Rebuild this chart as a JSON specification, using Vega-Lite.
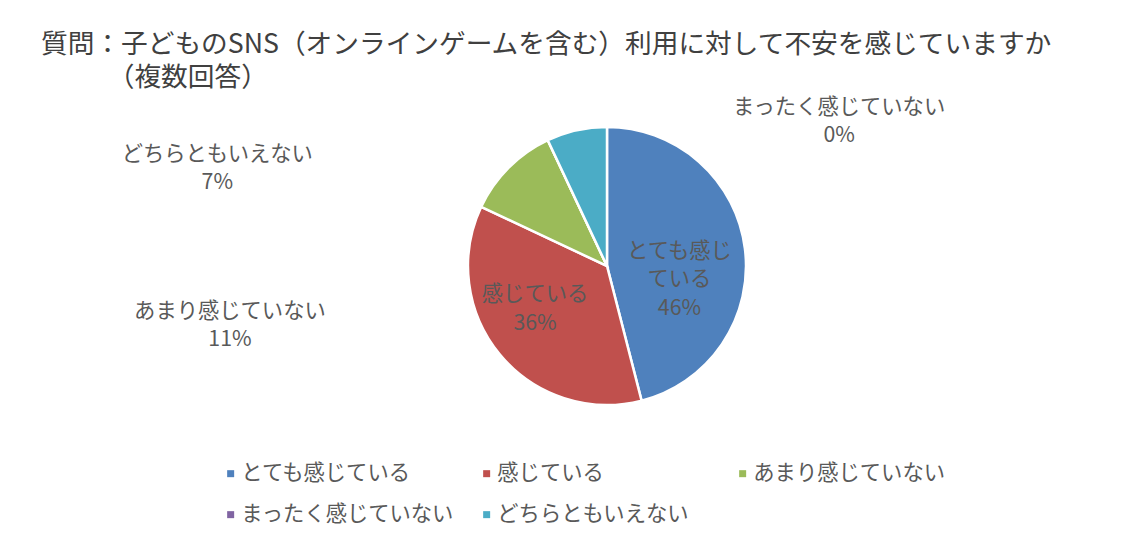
{
  "$schema": "https://vega.github.io/schema/vega-lite/v6.json",
  "width": 1054,
  "height": 332,
  "autosize": {"type": "none"},
  "padding": {"left": 80, "top": 100, "right": 12, "bottom": 126},
  "background": "white",
  "title": {
    "text": ["質問：子どものSNS（オンラインゲームを含む）利用に対して不安を感じていますか", "\u200B\u3000\u3000\u3000（複数回答）"],
    "anchor": "start",
    "frame": "group",
    "dx": -39,
    "offset": -5,
    "font": "Noto Sans CJK JP",
    "fontSize": 26.7,
    "fontWeight": "normal",
    "color": "#404040",
    "lineHeight": 33
  },
  "data": {
    "values": [
      {"cat": "とても感じている", "label": "とても感じ\nている\n46%", "value": 46, "order": 1},
      {"cat": "感じている", "label": "感じている\n36%", "value": 36, "order": 2},
      {"cat": "あまり感じていない", "label": "あまり感じていない\n11%", "value": 11, "order": 3},
      {"cat": "まったく感じていない", "label": "まったく感じていない\n0%", "value": 0, "order": 4},
      {"cat": "どちらともいえない", "label": "どちらともいえない\n7%", "value": 7, "order": 5}
    ]
  },
  "encoding": {
    "theta": {"field": "value", "type": "quantitative", "stack": true},
    "order": {"field": "order", "type": "quantitative"}
  },
  "layer": [
    {
      "mark": {"type": "arc", "outerRadius": 139, "stroke": "white", "strokeWidth": 2.5},
      "encoding": {
        "color": {
          "field": "cat",
          "type": "nominal",
          "scale": {
            "domain": ["とても感じている", "感じている", "あまり感じていない", "まったく感じていない", "どちらともいえない"],
            "range": ["#4F81BD", "#C0504D", "#9BBB59", "#8064A2", "#4BACC6"]
          },
          "legend": {
            "title": null,
            "orient": "none",
            "legendX": 140,
            "legendY": 363,
            "direction": "horizontal",
            "columns": 3,
            "columnPadding": 21,
            "rowPadding": 19,
            "gridAlign": "all",
            "symbolType": "square",
            "symbolSize": 49,
            "symbolStrokeWidth": 0,
            "labelFont": "Noto Sans CJK JP",
            "labelFontSize": 21.3,
            "labelColor": "#595959",
            "labelLimit": 400,
            "labelOffset": 0,
            "padding": 0
          }
        }
      }
    },
    {
      "mark": {"type": "text", "radius": 72, "dx": 1, "dy": -5, "align": "center", "baseline": "middle", "lineBreak": "\n", "lineHeight": 28.5, "font": "Noto Sans CJK JP", "fontSize": 21.3, "color": "#595959"},
      "encoding": {
        "detail": {"field": "cat"},
        "text": {"condition": {"test": "datum.cat === 'とても感じている'", "field": "label"}, "value": ""}
      }
    },
    {
      "mark": {"type": "text", "radius": 83, "dx": -8, "dy": -24, "align": "center", "baseline": "middle", "lineBreak": "\n", "lineHeight": 29, "font": "Noto Sans CJK JP", "fontSize": 21.3, "color": "#595959"},
      "encoding": {
        "detail": {"field": "cat"},
        "text": {"condition": {"test": "datum.cat === '感じている'", "field": "label"}, "value": ""}
      }
    },
    {
      "mark": {"type": "text", "radius": 150, "dx": -271, "dy": 152, "align": "center", "baseline": "middle", "lineBreak": "\n", "lineHeight": 28.5, "font": "Noto Sans CJK JP", "fontSize": 21.3, "color": "#595959"},
      "encoding": {
        "detail": {"field": "cat"},
        "text": {"condition": {"test": "datum.cat === 'あまり感じていない'", "field": "label"}, "value": ""}
      }
    },
    {
      "mark": {"type": "text", "radius": 150, "dx": 296, "dy": -22, "align": "center", "baseline": "middle", "lineBreak": "\n", "lineHeight": 27.5, "font": "Noto Sans CJK JP", "fontSize": 21.3, "color": "#595959"},
      "encoding": {
        "detail": {"field": "cat"},
        "text": {"condition": {"test": "datum.cat === 'まったく感じていない'", "field": "label"}, "value": ""}
      }
    },
    {
      "mark": {"type": "text", "radius": 150, "dx": -357, "dy": 35, "align": "center", "baseline": "middle", "lineBreak": "\n", "lineHeight": 28.5, "font": "Noto Sans CJK JP", "fontSize": 21.3, "color": "#595959"},
      "encoding": {
        "detail": {"field": "cat"},
        "text": {"condition": {"test": "datum.cat === 'どちらともいえない'", "field": "label"}, "value": ""}
      }
    }
  ],
  "config": {"view": {"stroke": null}, "font": "Noto Sans CJK JP"}
}
